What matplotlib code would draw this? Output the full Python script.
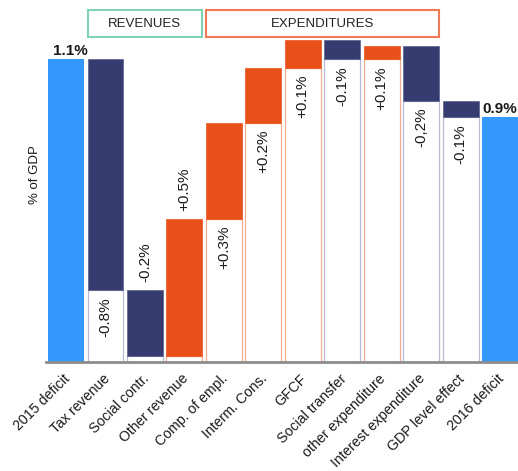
import numpy as np
import matplotlib
matplotlib.use("Agg")
import matplotlib.pyplot as plt
from matplotlib.patches import Rectangle
from matplotlib.transforms import ScaledTranslation

plt.rcParams["font.family"] = ["Liberation Sans", "DejaVu Sans"]

# Budget deficit bridge, 2015 -> 2016 (% of GDP)
categories = ["2015 deficit", "Tax revenue", "Social contr.", "Other revenue",
              "Comp. of empl.", "Interm. Cons.", "GFCF", "Social transfer",
              "other expenditure", "Interest expenditure", "GDP level effect",
              "2016 deficit"]
deficit_2015 = 1.10
deficit_2016 = 0.89
changes = [-0.84, -0.24, 0.50, 0.35, 0.20, 0.10, -0.07, 0.05, -0.20, -0.06]
change_labels = ["-0.8%", "-0.2%", "+0.5%", "+0.3%", "+0.2%", "+0.1%",
                 "-0.1%", "+0.1%", "-0,2%", "-0.1%"]
group_names = ["REVENUES", "EXPENDITURES"]
group_first = [1, 4]
group_last = [3, 9]

BLUE = "#3399FF"
NAVY = "#363B70"
ORANGE = "#E8511A"
NAVY_EDGE = "#B8BBD3"
ORANGE_EDGE = "#F3AE92"
GROUP_EDGES = ["#7FD2B8", "#EF7A55"]

fig = plt.figure(figsize=(5.18, 4.71), dpi=100)
ax = fig.add_axes([46 / 518, 109 / 471, 472 / 518, 362 / 471])
w = 0.91

ax.bar(0, deficit_2015, width=w, color=BLUE, zorder=2)
ax.annotate(f"{deficit_2015:.1f}%", (0.1, deficit_2015), xytext=(0, 1),
            textcoords="offset points", ha="center", va="bottom",
            fontsize=11, fontweight="bold", color="#1a1a1a")

level = deficit_2015
for i, (d, lab) in enumerate(zip(changes, change_labels), start=1):
    start, end = level, level + d
    lo, hi = min(start, end), max(start, end)
    col = ORANGE if d > 0 else NAVY
    edge = ORANGE_EDGE if d > 0 else NAVY_EDGE
    # white support box from the axis up to the floating bar
    ax.bar(i, lo, width=w, bottom=0, color="white", edgecolor=edge,
           linewidth=0.9, zorder=1)
    ax.bar(i, hi - lo, width=w, bottom=lo, color=col,
           edgecolor="#5A5F8C" if d < 0 else col, linewidth=0.5, zorder=2)
    if lo > 0.2:
        ax.annotate(lab, (i, lo), xytext=(0, -5), textcoords="offset points",
                    rotation=90, ha="center", va="top", fontsize=11,
                    color="#1a1a1a")
    else:
        ax.annotate(lab, (i, hi), xytext=(0, 6), textcoords="offset points",
                    rotation=90, ha="center", va="bottom", fontsize=11,
                    color="#1a1a1a")
    level = end

last = len(categories) - 1
ax.bar(last, deficit_2016, width=w, color=BLUE, zorder=2)
ax.annotate(f"{deficit_2016:.1f}%", (last, deficit_2016), xytext=(0, 1),
            textcoords="offset points", ha="center", va="bottom",
            fontsize=11, fontweight="bold", color="#1a1a1a",
            annotation_clip=False)

# group header boxes
for name, a, b, ec in zip(group_names, group_first, group_last, GROUP_EDGES):
    x0, x1 = a - w / 2, b + w / 2
    ax.add_patch(Rectangle((x0, 1.18), x1 - x0, 0.10, facecolor="white",
                           edgecolor=ec, linewidth=1.5, zorder=3))
    ax.text((x0 + x1) / 2, 1.23, name, ha="center", va="center",
            fontsize=9.5, color="#222222", zorder=4)

ax.set_xlim(-0.507, 11.456)
ax.set_ylim(0, 1.316)
for s in ("left", "top", "right"):
    ax.spines[s].set_visible(False)
ax.spines["bottom"].set_color("#8C8C8C")
ax.spines["bottom"].set_linewidth(2)
ax.spines["bottom"].set_zorder(5)
ax.set_yticks([])
ax.set_xticks(np.arange(len(categories)))
ax.set_xticklabels(categories, rotation=45, ha="right", va="center",
                   rotation_mode="anchor", fontsize=10.2, color="#1a1a1a")
ax.tick_params(axis="x", length=0, pad=10.5)
shift = ScaledTranslation(2 / 100, 0, fig.dpi_scale_trans)
for t in ax.get_xticklabels():
    t.set_transform(t.get_transform() + shift)

fig.text(35 / 518, 1 - 175 / 471, "% of GDP", rotation=90, ha="center",
         va="center", fontsize=9.5, color="#1a1a1a")

fig.savefig("out.png", dpi=100)
